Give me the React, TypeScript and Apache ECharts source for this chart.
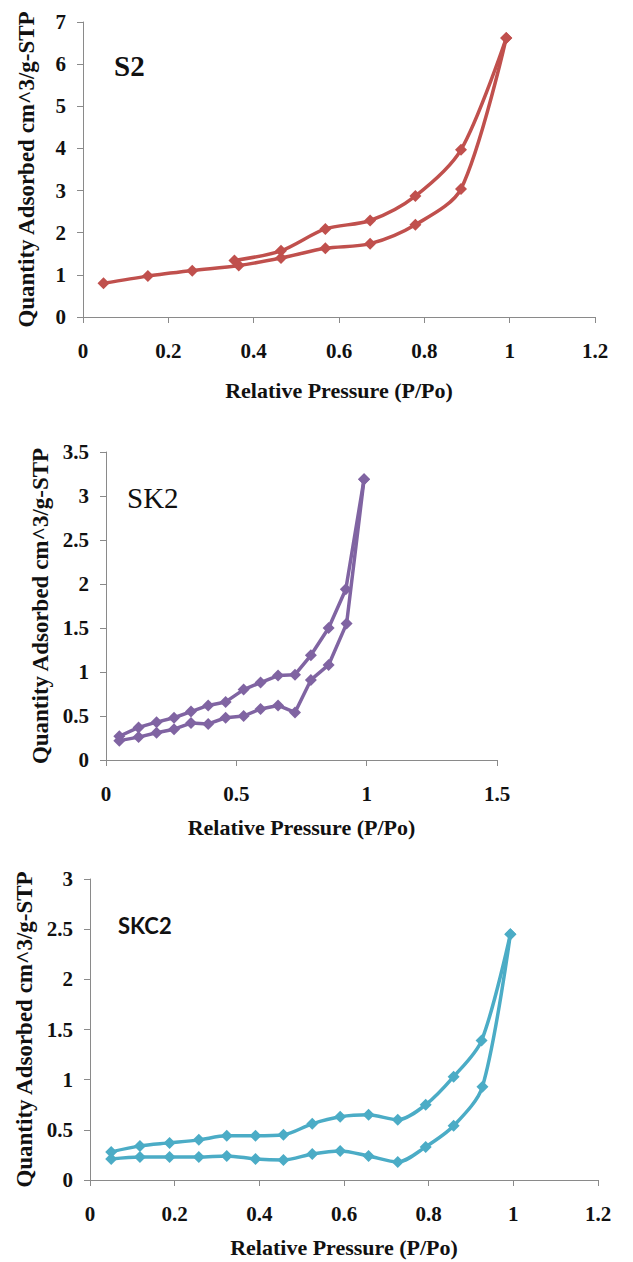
import React, { useEffect, useRef } from "react";
import * as echarts from "echarts";

// ---- S2 ----
const s2Adsorption: [number, number][] = [
  [0.048, 0.8], [0.152, 0.97], [0.256, 1.1], [0.365, 1.22], [0.464, 1.4],
  [0.568, 1.63], [0.673, 1.74], [0.779, 2.19], [0.886, 3.04], [0.992, 6.62],
];
const s2Desorption: [number, number][] = [
  [0.992, 6.62], [0.886, 3.97], [0.779, 2.87], [0.673, 2.29], [0.568, 2.09],
  [0.464, 1.57], [0.355, 1.34],
];

// ---- SK2 ----
const sk2Adsorption: [number, number][] = [
  [0.051, 0.22], [0.125, 0.26], [0.194, 0.31], [0.261, 0.35], [0.326, 0.42],
  [0.392, 0.41], [0.459, 0.48], [0.528, 0.5], [0.593, 0.58], [0.66, 0.62],
  [0.725, 0.54], [0.786, 0.91], [0.854, 1.08], [0.923, 1.55], [0.99, 3.19],
];
const sk2Desorption: [number, number][] = [
  [0.99, 3.19], [0.92, 1.94], [0.854, 1.5], [0.786, 1.19], [0.725, 0.97],
  [0.66, 0.96], [0.593, 0.88], [0.528, 0.8], [0.459, 0.66], [0.392, 0.62],
  [0.326, 0.55], [0.261, 0.48], [0.194, 0.43], [0.125, 0.37], [0.051, 0.27],
];

// ---- SKC2 ----
const skc2Adsorption: [number, number][] = [
  [0.05, 0.21], [0.118, 0.23], [0.188, 0.23], [0.257, 0.23], [0.323, 0.24],
  [0.391, 0.21], [0.457, 0.2], [0.525, 0.26], [0.591, 0.29], [0.658, 0.24],
  [0.727, 0.18], [0.793, 0.33], [0.859, 0.54], [0.927, 0.93], [0.993, 2.45],
];
const skc2Desorption: [number, number][] = [
  [0.993, 2.45], [0.925, 1.39], [0.859, 1.03], [0.793, 0.75], [0.727, 0.6],
  [0.658, 0.65], [0.591, 0.63], [0.525, 0.56], [0.457, 0.45], [0.391, 0.44],
  [0.323, 0.44], [0.257, 0.4], [0.188, 0.37], [0.118, 0.34], [0.05, 0.28],
];

const sampleNames = ["S2", "SK2", "SKC2"];
const colors = ["#C0504D", "#8064A2", "#4BACC6"];
const xMax = [1.2, 1.5, 1.2];
const xInterval = [0.2, 0.5, 0.2];
const yMax = [7, 3.5, 3];
const yInterval = [1, 0.5, 0.5];
const xTitle = "Relative Pressure (P/Po)";
const yTitle = "Quantity Adsorbed cm^3/g-STP";

const SERIF = "Liberation Serif";

export default function App() {
  const ref = useRef<HTMLDivElement>(null);
  useEffect(() => {
    document.body.style.margin = "0";
    if (!ref.current) return;
    const chart = echarts.init(ref.current, null, { renderer: "svg" });

    const grids = [
      { left: 83, top: 22, width: 512, height: 295 },
      { left: 106, top: 452, width: 391, height: 308 },
      { left: 90, top: 879, width: 508, height: 301 },
    ];
    const xNameGaps = [62, 56, 56];
    const yNameGaps = [45, 50, 52];

    const axisColor = "#8a8a8a";

    const xAxes = grids.map((_, i) => ({
      type: "value",
      gridIndex: i,
      min: 0,
      max: xMax[i],
      interval: xInterval[i],
      name: xTitle,
      nameLocation: "middle",
      nameGap: xNameGaps[i],
      nameTextStyle: { fontFamily: SERIF, fontSize: 22, fontWeight: "bold", color: "#111" },
      axisLine: { show: true, lineStyle: { color: axisColor, width: 1 } },
      axisTick: { show: true, inside: false, length: 6, lineStyle: { color: axisColor } },
      splitLine: { show: false },
      axisLabel: { fontFamily: SERIF, fontSize: 21, fontWeight: "bold", color: "#111", margin: 23 },
    }));

    const yAxes = grids.map((_, i) => ({
      type: "value",
      gridIndex: i,
      min: 0,
      max: yMax[i],
      interval: yInterval[i],
      name: yTitle,
      nameLocation: "middle",
      nameRotate: 90,
      nameGap: yNameGaps[i],
      nameTextStyle: { fontFamily: SERIF, fontSize: 23, fontWeight: "bold", color: "#111" },
      axisLine: { show: true, lineStyle: { color: axisColor, width: 1 } },
      axisTick: { show: true, inside: false, length: 6, lineStyle: { color: axisColor } },
      splitLine: { show: false },
      axisLabel: { fontFamily: SERIF, fontSize: 21, fontWeight: "bold", color: "#111", margin: 17 },
    }));

    const datasets = [
      [s2Adsorption, s2Desorption],
      [sk2Adsorption, sk2Desorption],
      [skc2Adsorption, skc2Desorption],
    ];
    const smooth = [0.3, false, 0.3];

    const series: any[] = [];
    datasets.forEach((pair, i) => {
      pair.forEach((data, j) => {
        series.push({
          type: "line",
          name: sampleNames[i] + (j === 0 ? " adsorption" : " desorption"),
          xAxisIndex: i,
          yAxisIndex: i,
          data,
          smooth: smooth[i],
          symbol: "diamond",
          symbolSize: 12,
          lineStyle: { color: colors[i], width: 3.5 },
          itemStyle: { color: colors[i] },
          z: 2,
        });
      });
    });

    chart.setOption({
      animation: false,
      backgroundColor: "#ffffff",
      grid: grids.map((g) => ({ ...g, containLabel: false })),
      xAxis: xAxes,
      yAxis: yAxes,
      series,
      graphic: [
        {
          type: "text",
          left: 114,
          top: 51,
          style: { text: sampleNames[0], fontFamily: SERIF, fontSize: 29, fontWeight: "bold", fill: "#111" },
        },
        {
          type: "text",
          left: 127,
          top: 483,
          style: { text: sampleNames[1], fontFamily: SERIF, fontSize: 29, fontWeight: "normal", fill: "#111" },
        },
        {
          type: "text",
          left: 118,
          top: 914,
          style: { text: sampleNames[2], fontFamily: "Lato", fontSize: 22, fontWeight: "bold", fill: "#111" },
        },
      ],
    });
    return () => chart.dispose();
  }, []);
  return <div ref={ref} style={{ width: 633, height: 1262 }} />;
}
